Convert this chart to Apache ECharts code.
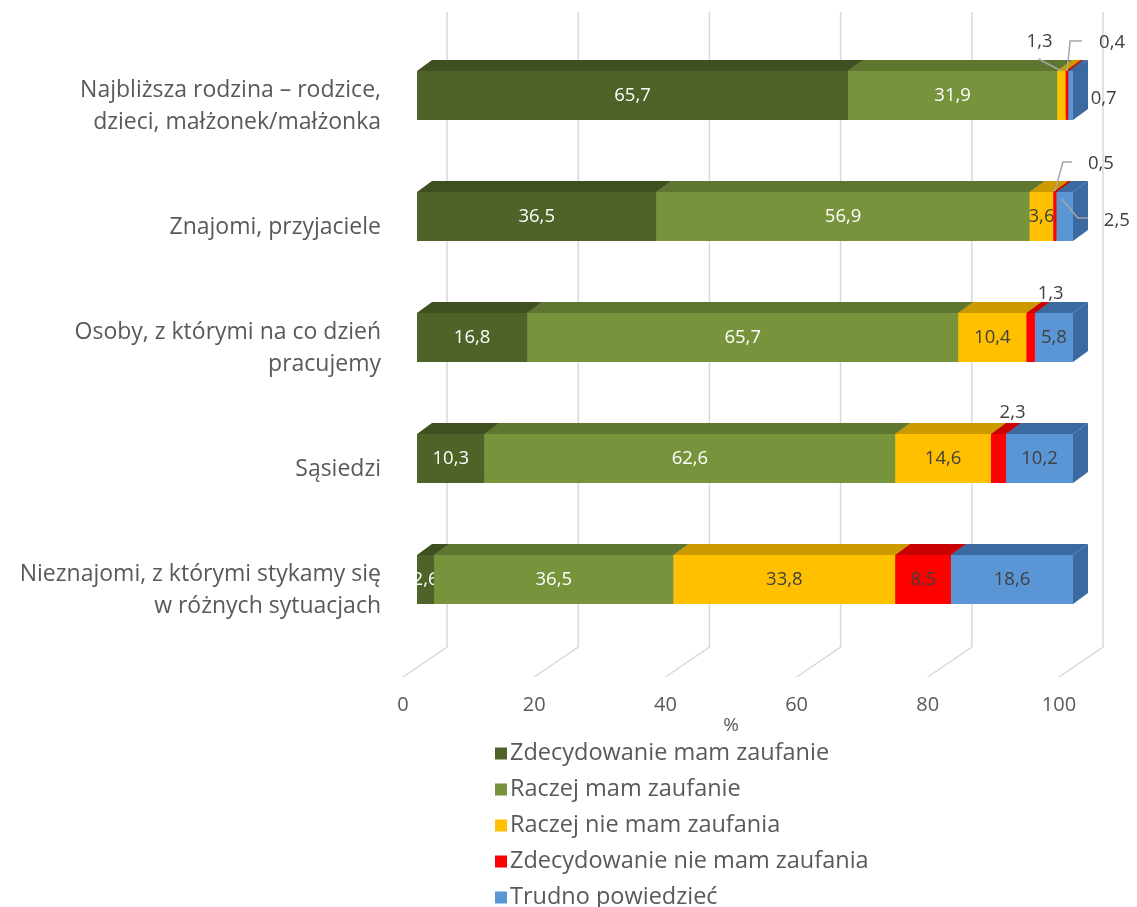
<!DOCTYPE html>
<html>
<head>
<meta charset="utf-8">
<script src="https://cdn.jsdelivr.net/npm/echarts@6/dist/echarts.min.js"></script>
<style>
  html, body { margin: 0; padding: 0; background: #fff; }
  #main { width: 1137px; height: 907px; }
</style>
</head>
<body>
<div id="main"></div>
<script>
const categories = [
  'Najbliższa rodzina – rodzice,\ndzieci, małżonek/małżonka',
  'Znajomi, przyjaciele',
  'Osoby, z którymi na co dzień\npracujemy',
  'Sąsiedzi',
  'Nieznajomi, z którymi stykamy się\nw różnych sytuacjach'
];
const seriesNames = [
  'Zdecydowanie mam zaufanie',
  'Raczej mam zaufanie',
  'Raczej nie mam zaufania',
  'Zdecydowanie nie mam zaufania',
  'Trudno powiedzieć'
];
const zdecydowanieMam = [65.7, 36.5, 16.8, 10.3, 2.6];
const raczejMam = [31.9, 56.9, 65.7, 62.6, 36.5];
const raczejNieMam = [1.3, 3.6, 10.4, 14.6, 33.8];
const zdecydowanieNieMam = [0.4, 0.5, 1.3, 2.3, 8.5];
const trudnoPowiedziec = [0.7, 2.5, 5.8, 10.2, 18.6];
const xTicks = [0, 20, 40, 60, 80, 100];

const allValues = [zdecydowanieMam, raczejMam, raczejNieMam, zdecydowanieNieMam, trudnoPowiedziec];

// front / top-side colours
const frontColors = ['#4f6228', '#77933c', '#ffc000', '#ff0000', '#5a96d6'];
const topColors = ['#3f4f1f', '#5f7630', '#cc9a00', '#c80000', '#3b6aa0'];
const labelColors = ['#ffffff', '#ffffff', '#404040', '#404040', '#404040'];

// 3d depth offset of the bars
const DX = 15, DY = -11;
const FONT = '"Open Sans", "DejaVu Sans", sans-serif';

// labels placed outside small segments: offset from the front-top centre of the segment
const callouts = {
  '2-0': { off: [-22, -29], line: [[-23, -12], [0, 0]] },
  '3-0': { off: [45, -28], line: [[15, -30], [3, -30], [0, 0]] },
  '4-0': { off: [33, 28] },
  '3-1': { off: [46, -28], line: [[17, -30], [8, -30], [0, -1]] },
  '4-1': { off: [52, 29], line: [[23, 26], [13, 26], [-3, 7]] },
  '3-2': { off: [20, -19] },
  '3-3': { off: [14, -21] }
};

function fmt(v) {
  return v.toFixed(1).replace('.', ',');
}

function buildData(si) {
  return categories.map(function (c, ci) {
    let start = 0;
    for (let k = 0; k < si; k++) start += allValues[k][ci];
    return [start, start + allValues[si][ci], ci, allValues[si][ci]];
  });
}

function makeBarSeries(si) {
  return {
    name: seriesNames[si],
    type: 'custom',
    xAxisIndex: 0,
    yAxisIndex: 0,
    itemStyle: { color: frontColors[si] },
    encode: { x: [0, 1], y: 2 },
    data: buildData(si),
    z: 5,
    renderItem: function (params, api) {
      const s = api.value(0), e = api.value(1), ci = api.value(2), v = api.value(3);
      const p0 = api.coord([s, ci]);
      const p1 = api.coord([e, ci]);
      const h = api.size([0, 1])[1] * 0.405;
      const top = p0[1] - h / 2, bot = p0[1] + h / 2;
      const x0 = p0[0], x1 = p1[0];
      const children = [
        { type: 'rect', shape: { x: x0, y: top, width: x1 - x0, height: h },
          style: { fill: frontColors[si] } },
        { type: 'polygon', shape: { points: [[x0, top], [x0 + DX, top + DY], [x1 + DX, top + DY], [x1, top]] },
          style: { fill: topColors[si] } },
        { type: 'polygon', shape: { points: [[x1, top], [x1 + DX, top + DY], [x1 + DX, bot + DY], [x1, bot]] },
          style: { fill: topColors[si] } }
      ];
      const key = si + '-' + ci;
      const cx = (x0 + x1) / 2;
      if (callouts[key]) {
        const c = callouts[key];
        if (c.line) {
          children.push({ type: 'polyline', shape: { points: c.line.map(function (p) { return [cx + p[0], top + p[1]]; }) },
            style: { stroke: '#a6a6a6', lineWidth: 1.5, fill: null } });
        }
        children.push({ type: 'text', style: { text: fmt(v), x: cx + c.off[0], y: top + c.off[1],
          fill: '#404040', fontSize: 18.5, fontFamily: FONT, align: 'center', verticalAlign: 'middle' } });
      } else {
        children.push({ type: 'text', style: { text: fmt(v), x: cx, y: p0[1],
          fill: labelColors[si], fontSize: 18.5, fontFamily: FONT, align: 'center', verticalAlign: 'middle' } });
      }
      return { type: 'group', children: children };
    }
  };
}

const chart = echarts.init(document.getElementById('main'));

const option = {
  backgroundColor: '#ffffff',
  animation: false,
  grid: [
    { left: 417, right: 64, top: 35, bottom: 267 },
    { left: 403, right: 78, top: 600, bottom: 230 },
    // category labels sit slightly lower than the bar fronts
    { left: 417, right: 64, top: 46, bottom: 256 }
  ],
  xAxis: [
    { gridIndex: 0, type: 'value', min: 0, max: 100, show: false },
    {
      gridIndex: 1, type: 'value', min: 0, max: 100, interval: 20,
      axisLine: { show: false }, axisTick: { show: false }, splitLine: { show: false },
      axisLabel: { color: '#595959', fontSize: 20, fontFamily: FONT, margin: 18 },
      name: '%', nameLocation: 'middle', nameGap: 38,
      nameTextStyle: { color: '#595959', fontSize: 19, fontFamily: FONT }
    },
    { gridIndex: 2, type: 'value', min: 0, max: 100, show: false }
  ],
  yAxis: [
    {
      gridIndex: 0, type: 'category', data: categories, inverse: true,
      axisLine: { show: false }, axisTick: { show: false }, splitLine: { show: false },
      axisLabel: { show: false }
    },
    { gridIndex: 1, type: 'value', show: false },
    {
      gridIndex: 2, type: 'category', data: categories, inverse: true,
      axisLine: { show: false }, axisTick: { show: false }, splitLine: { show: false },
      axisLabel: { color: '#595959', fontSize: 23, fontFamily: FONT, lineHeight: 32, margin: 36, align: 'right' }
    }
  ],
  legend: {
    orient: 'vertical',
    left: 490,
    top: 736,
    height: 170,
    width: 500,
    icon: 'rect',
    itemWidth: 12,
    itemHeight: 12,
    itemGap: 11,
    data: seriesNames,
    textStyle: { color: '#595959', fontSize: 23.5, fontFamily: FONT, lineHeight: 25, padding: [0, 0, 0, -2] }
  },
  series: [
    {
      type: 'custom',
      xAxisIndex: 0,
      yAxisIndex: 0,
      z: 1,
      silent: true,
      data: xTicks.map(function (t) { return [t]; }),
      encode: { x: 0 },
      renderItem: function (params, api) {
        const x = api.coord([api.value(0), 0])[0];
        return {
          type: 'polyline',
          shape: { points: [[x - 14, 677], [x + 30, 647], [x + 30, 12]] },
          style: { stroke: '#d9d9d9', lineWidth: 1.5, fill: null }
        };
      }
    }
  ].concat(seriesNames.map(function (n, i) { return makeBarSeries(i); }))
};

chart.setOption(option);
</script>
</body>
</html>
